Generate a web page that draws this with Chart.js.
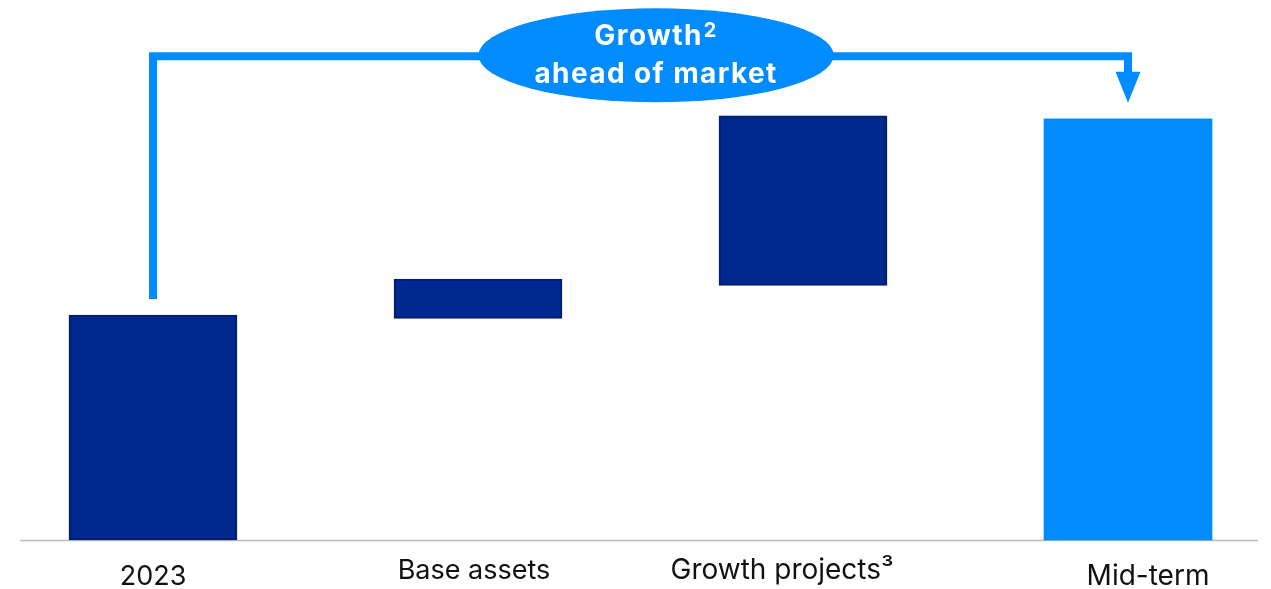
<!DOCTYPE html>
<html lang="en">
<head>
  <meta charset="UTF-8">
  <title>Growth waterfall</title>
  <script src="https://cdn.jsdelivr.net/npm/chart.js"></script>
  <style>
    html, body { margin: 0; padding: 0; background: #fff; }
    #wrap { width: 1271px; height: 589px; position: relative; }
  </style>
</head>
<body>
  <div id="wrap"><canvas id="waterfall"></canvas></div>

  <script>
    // categories and values (index, 2023 = 100)
    const categories = ['2023', 'Base assets', 'Growth projects³', 'Mid-term'];
    const barLow  = [0, 98.5, 113.2, 0];
    const barHigh = [100, 116, 188.5, 187.2];
    const bracketLevel = 215;   // level of the connector line above the bars

    const darkBlue = '#00298F';
    const darkEdge = '#001D6E';
    const lightBlue = '#008CFF';

    const fills = categories.map((c, i) => i === categories.length - 1 ? lightBlue : darkBlue);
    const edges = categories.map((c, i) => i === categories.length - 1 ? lightBlue : darkEdge);
    const edgeW = categories.map((c, i) => i === categories.length - 1 ? 0 : 2);

    // label placement tweaks (the slide text boxes are not all centred)
    const labelShift = [0, -4, -21, 20];
    const labelDrop  = [45, 39, 39, 45];
    const labelSize  = [27, 27, 28, 28];

    // grey base line running under all bars
    const baseLine = {
      id: 'baseLine',
      beforeDatasetsDraw(chart) {
        const c = chart.ctx, y = chart.scales.y.getPixelForValue(0);
        c.save();
        c.strokeStyle = '#BDBDBD';
        c.lineWidth = 1.5;
        c.beginPath();
        c.moveTo(20, y + 0.5);
        c.lineTo(chart.width - 13, y + 0.5);
        c.stroke();
        c.restore();
      }
    };

    // category labels under the bars
    const catLabels = {
      id: 'catLabels',
      afterDraw(chart) {
        const c = chart.ctx, xs = chart.scales.x, y0 = chart.scales.y.getPixelForValue(0);
        c.save();
        c.fillStyle = '#111111';
        c.textAlign = 'center';
        c.textBaseline = 'alphabetic';
        categories.forEach((lab, i) => {
          c.font = labelSize[i] + 'px Inter';
          c.fillText(lab, xs.getPixelForValue(i) + labelShift[i], y0 + labelDrop[i]);
        });
        c.restore();
      }
    };

    // bracket from first bar to last bar with the bubble label
    const bracket = {
      id: 'bracket',
      afterDatasetsDraw(chart) {
        const c = chart.ctx, xs = chart.scales.x, ys = chart.scales.y;
        const x0 = xs.getPixelForValue(0);
        const x1 = xs.getPixelForValue(categories.length - 1);
        const yTop = ys.getPixelForValue(bracketLevel);
        const yStart = ys.getPixelForValue(barHigh[0]) - 16;
        const yEndBar = ys.getPixelForValue(barHigh[3]);
        c.save();
        c.strokeStyle = lightBlue;
        c.fillStyle = lightBlue;
        c.lineWidth = 8;
        c.lineJoin = 'miter';
        c.beginPath();
        c.moveTo(x0, yStart);
        c.lineTo(x0, yTop);
        c.lineTo(x1, yTop);
        c.lineTo(x1, yEndBar - 46);
        c.stroke();
        // arrow head
        c.beginPath();
        c.moveTo(x1 - 12.5, yEndBar - 47);
        c.lineTo(x1 + 12.5, yEndBar - 47);
        c.lineTo(x1, yEndBar - 16);
        c.closePath();
        c.fill();
        // bubble
        const cx = x0 + (x1 - x0) * 0.516;
        c.beginPath();
        c.ellipse(cx, yTop - 1, 177.5, 47, 0, 0, Math.PI * 2);
        c.fill();
        c.fillStyle = '#FFFFFF';
        c.textBaseline = 'alphabetic';
        c.letterSpacing = '1.4px';
        c.font = 'bold 28px Inter';
        const w1 = c.measureText('Growth').width;
        c.font = 'bold 20px Inter';
        const w2 = c.measureText('2').width;
        const sx = cx - (w1 + w2 + 1) / 2;
        c.font = 'bold 28px Inter';
        c.textAlign = 'left';
        c.fillText('Growth', sx, yTop - 11);
        c.font = 'bold 20px Inter';
        c.fillText('2', sx + w1 + 1, yTop - 19);
        c.font = 'bold 28px Inter';
        c.textAlign = 'center';
        c.fillText('ahead of market', cx, yTop + 27);
        c.restore();
      }
    };

    new Chart(document.getElementById('waterfall'), {
      type: 'bar',
      data: {
        labels: categories,
        datasets: [{
          data: categories.map((c, i) => [barLow[i], barHigh[i]]),
          backgroundColor: fills,
          borderColor: edges,
          borderWidth: edgeW,
          borderSkipped: false,
          barThickness: 168,
          clip: false
        }]
      },
      options: {
        responsive: true,
        maintainAspectRatio: false,
        animation: false,
        layout: { padding: { top: 90, left: 153, right: 143, bottom: 0 } },
        plugins: { legend: { display: false }, tooltip: { enabled: false } },
        scales: {
          x: {
            offset: false,
            grid: { display: false },
            border: { display: false },
            ticks: { display: false },
            afterFit(scale) { scale.height = 49; }
          },
          y: {
            display: false,
            min: 0,
            max: 200
          }
        }
      },
      plugins: [baseLine, bracket, catLabels]
    });
  </script>
</body>
</html>
